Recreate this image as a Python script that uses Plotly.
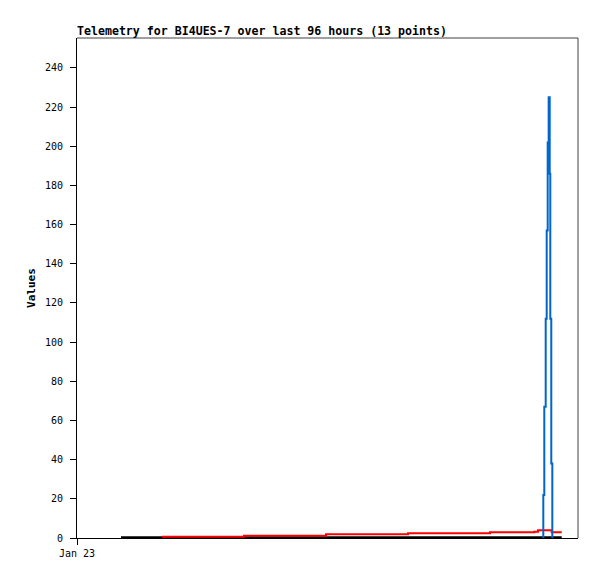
import plotly.graph_objects as go

# Hours since Jan 23 00:00 (x axis spans 96 hours)
black_t = [8.43, 92.88]
black_v = [0.4, 0.4]

red_t = [16.29, 32.00, 47.71, 63.43, 79.14, 87.63, 88.34, 90.96, 92.88]
red_v = [0.7, 1.2, 1.9, 2.4, 2.9, 3.2, 3.9, 2.9, 2.9]

blue_t = [89.35, 89.35, 89.54, 89.81, 90.00, 90.19, 90.38, 90.58, 90.69, 90.88, 91.08]
blue_v = [0, 22, 67, 112, 157, 202, 225, 186, 112, 38, 0]

y_ticks = list(range(0, 241, 20))
x_tick_vals = [0]
x_tick_text = ["Jan 23"]

title = "Telemetry for BI4UES-7 over last 96 hours (13 points)"
mono = "DejaVu Sans Mono"

fig = go.Figure()
fig.add_trace(go.Scatter(x=black_t, y=black_v, mode="lines", line=dict(color="#000000", width=2, shape="hv"), hoverinfo="skip"))
fig.add_trace(go.Scatter(x=red_t, y=red_v, mode="lines", line=dict(color="#ff0000", width=2, shape="hv"), hoverinfo="skip"))
fig.add_trace(go.Scatter(x=blue_t, y=blue_v, mode="lines", line=dict(color="#0066cc", width=2, shape="hv"), hoverinfo="skip"))

fig.update_layout(
    width=589, height=571,
    margin=dict(l=69, r=19, t=30, b=41),
    paper_bgcolor="white", plot_bgcolor="white",
    showlegend=False,
    font=dict(family=mono, size=10, color="black"),
    xaxis=dict(range=[0, 96], tickvals=x_tick_vals, ticktext=x_tick_text,
               ticks="outside", ticklen=6, tickcolor="black", showgrid=False,
               zeroline=False, showline=True, linecolor="black", linewidth=1,
               mirror=False, tickfont=dict(family=mono, size=10)),
    yaxis=dict(range=[0, 255.3], tickvals=y_ticks, ticks="outside", ticklen=6,
               tickcolor="black", showgrid=False, zeroline=False, showline=True,
               linecolor="black", linewidth=1, tickfont=dict(family=mono, size=10),
               ticklabelstandoff=5,
               title=dict(text="<b>Values</b>", font=dict(family=mono, size=11), standoff=7)),
    shapes=[
        dict(type="line", xref="paper", yref="paper", x0=0, x1=1, y0=1, y1=1, line=dict(color="#404040", width=1)),
        dict(type="line", xref="paper", yref="paper", x0=1, x1=1, y0=0, y1=1, line=dict(color="#404040", width=1)),
    ],
    annotations=[dict(text="<b>" + title + "</b>", xref="paper", yref="paper", x=0, y=1,
                      xanchor="left", yanchor="bottom", xshift=-2, yshift=-2, showarrow=False,
                      font=dict(family=mono, size=11.6, color="black"))],
)

fig.write_html("out.html")
